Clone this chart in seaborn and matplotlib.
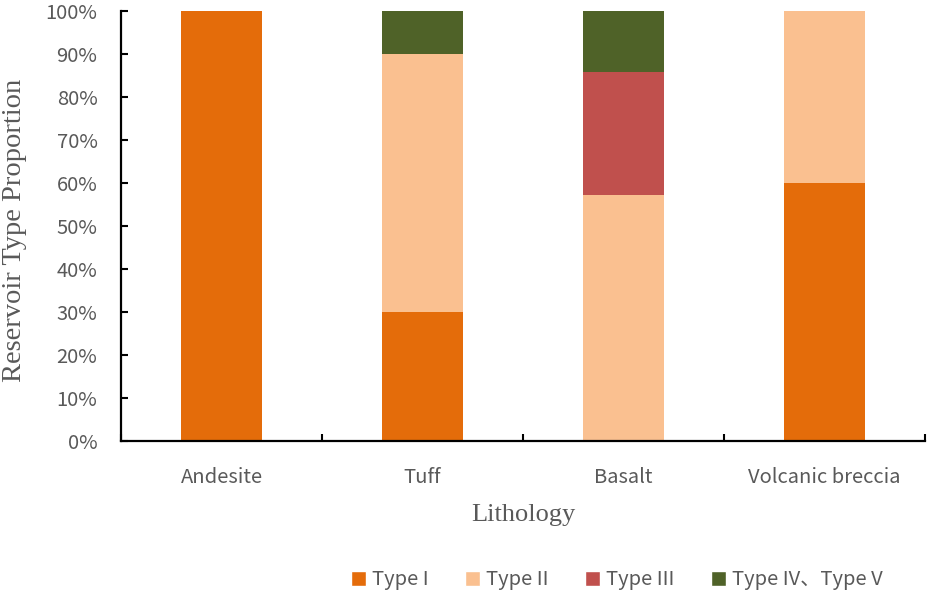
import matplotlib
matplotlib.use("Agg")
import matplotlib.pyplot as plt
import numpy as np
import pandas as pd
import seaborn as sns
from matplotlib.patches import Patch
from matplotlib.ticker import FixedLocator, PercentFormatter

# --- Data ---
lithology = ["Andesite", "Tuff", "Basalt", "Volcanic breccia"]
type_i = [100.0, 30.0, 0.0, 60.0]
type_ii = [0.0, 60.0, 57.1, 40.0]
type_iii = [0.0, 0.0, 28.6, 0.0]
type_iv_v = [0.0, 10.0, 14.3, 0.0]
series_names = ["Type I", "Type II", "Type III", "Type IV、Type V"]
colors = ["#E46C0A", "#FAC090", "#C0504D", "#4F6228"]

TEXT_GREY = "#595959"


def main():
    sns.set_theme(style="white")
    plt.rcParams["font.family"] = ["Noto Sans CJK SC", "DejaVu Sans"]

    df = pd.DataFrame({
        "Lithology": lithology,
        "Type I": type_i,
        "Type II": type_ii,
        "Type III": type_iii,
        "Type IV、Type V": type_iv_v,
    })

    fig = plt.figure(figsize=(9.29, 5.96), dpi=100)
    ax = fig.add_axes([121 / 929, 1 - 441 / 596, 804 / 929, 430 / 596])

    # stack the series one on top of the other
    bottom = np.zeros(len(lithology))
    for name, color in zip(series_names, colors):
        sns.barplot(data=df, x="Lithology", y=name, color=color, ax=ax,
                    width=0.4, bottom=bottom.copy(), saturation=1,
                    linewidth=0, errorbar=None)
        bottom += df[name].to_numpy()

    ax.set_xlim(-0.5, len(lithology) - 0.5)
    ax.set_ylim(0, 100)
    ax.set_yticks(np.arange(0, 101, 10))
    ax.yaxis.set_major_formatter(PercentFormatter(decimals=0))

    # Excel-like ticks: inward, x ticks on the category boundaries
    ax.xaxis.set_minor_locator(FixedLocator(np.arange(-0.5, len(lithology), 1.0)))
    ax.tick_params(axis="x", which="major", length=0, pad=19)
    ax.tick_params(axis="x", which="minor", direction="in", length=5,
                   width=1.5, color="black", bottom=True)
    ax.tick_params(axis="y", direction="in", length=5, width=1.5,
                   color="black", left=True, pad=17)
    ax.tick_params(axis="both", labelsize=14.5, labelcolor=TEXT_GREY)

    for side in ["top", "right"]:
        ax.spines[side].set_visible(False)
    for side in ["bottom", "left"]:
        ax.spines[side].set_color("black")
        ax.spines[side].set_linewidth(1.6)

    ax.set_xlabel("Lithology", family="Liberation Serif", fontsize=19,
                  color=TEXT_GREY)
    ax.xaxis.set_label_coords(0.5, -(504 - 441) / 430)
    ax.set_ylabel("Reservoir Type Proportion", family="Liberation Serif",
                  fontsize=20.5, color=TEXT_GREY)
    ax.yaxis.set_label_coords(-(121 - 27) / 804, 0.49)

    handles = [Patch(facecolor=c, label=n) for n, c in zip(series_names, colors)]
    fig.legend(handles=handles, loc="center", bbox_to_anchor=(617 / 929, 1 - 580 / 596),
               ncol=4, frameon=False, fontsize=14.5, handlelength=0.75,
               handleheight=0.75, handletextpad=0.3, columnspacing=1.8,
               labelcolor=TEXT_GREY)

    fig.savefig("out.png", dpi=100)
    plt.close(fig)


if __name__ == "__main__":
    main()
